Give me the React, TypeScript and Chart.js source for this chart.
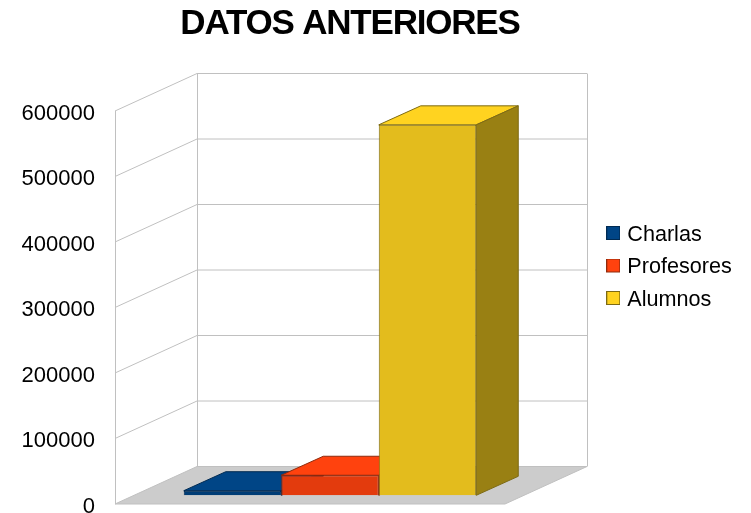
import React, { useEffect, useRef } from "react";
import { Chart, registerables } from "chart.js";

Chart.register(...registerables);

const categories = ["Datos"];
const seriesNames = ["Charlas", "Profesores", "Alumnos"];
const charlas = [7000];
const profesores = [30600];
const alumnos = [565600];
const yTicks = [0, 100000, 200000, 300000, 400000, 500000, 600000];

const FONT = '"Liberation Sans", Arial, sans-serif';
const topColors = ["#004586", "#ff420e", "#ffd320"];
const frontColors = ["#003d76", "#e33b0d", "#e3bc1d"];
const sideColors = ["#002a52", "#992809", "#998013"];
const edgeColors = ["#002a52", "#8f2a0c", "#7d6a14"];

const FLOOR_DX = 82, FLOOR_DY = -37.5;
const BAR_SHIFT_X = 20, BAR_SHIFT_Y = -8.7;
const BAR_DX = 42, BAR_DY = -19;
const WALL_LINE = "#c0c0c0";

function swatch(fill: string, stroke: string) {
  const c = document.createElement("canvas");
  c.width = 14; c.height = 18;
  const g = c.getContext("2d")!;
  g.fillStyle = fill; g.fillRect(0.5, 0.5, 13, 13);
  g.strokeStyle = stroke; g.lineWidth = 1; g.strokeRect(0.5, 0.5, 13, 13);
  return c;
}

function poly(ctx: CanvasRenderingContext2D, pts: number[][], fill: string | null, stroke: string | null) {
  ctx.beginPath();
  pts.forEach((p, i) => (i ? ctx.lineTo(p[0], p[1]) : ctx.moveTo(p[0], p[1])));
  ctx.closePath();
  if (fill) { ctx.fillStyle = fill; ctx.fill(); }
  if (stroke) { ctx.strokeStyle = stroke; ctx.lineWidth = 1; ctx.stroke(); }
}

const box3d = {
  id: "box3d",
  beforeLayout(chart: any) {
    const legend = chart.legend;
    if (legend && !legend.__fixed) {
      const f = legend.fit;
      legend.fit = function () { f.call(this); this.width = 246; };
      legend.__fixed = true;
      const t = chart.titleBlock;
      const d = t.draw;
      t.draw = function () {
        const c = this.ctx;
        c.letterSpacing = "-1.2px";
        d.call(this);
        c.letterSpacing = "0px";
      };
    }
  },
  afterLayout(chart: any) {
    const legend = chart.legend;
    const mid = (legend.top + legend.bottom) / 2;
    const d = 267.5 - mid;
    legend.top += d; legend.bottom += d;
    legend.left = 599.2; legend.right = 751;
    const t = chart.titleBlock;
    t.left = 0; t.right = 700;
  },
  beforeDatasetsDraw(chart: any) {
    const { ctx, chartArea: a, scales } = chart;
    const y = scales.y;
    const x0 = a.left, x1 = a.right;
    const y0 = y.getPixelForValue(0), yT = y.getPixelForValue(600000);
    ctx.save();
    poly(ctx, [[x0, y0], [x0 + FLOOR_DX, y0 + FLOOR_DY], [x1 + FLOOR_DX, y0 + FLOOR_DY], [x1, y0]], "#cccccc", WALL_LINE);
    ctx.strokeStyle = WALL_LINE;
    ctx.lineWidth = 1;
    ctx.beginPath();
    ctx.moveTo(x0 + 0.5, y0); ctx.lineTo(x0 + 0.5, yT);
    ctx.moveTo(x0 + FLOOR_DX + 0.5, y0 + FLOOR_DY); ctx.lineTo(x0 + FLOOR_DX + 0.5, yT + FLOOR_DY);
    ctx.moveTo(x1 + FLOOR_DX + 0.5, y0 + FLOOR_DY); ctx.lineTo(x1 + FLOOR_DX + 0.5, yT + FLOOR_DY);
    for (const v of yTicks) {
      if (v === 0) continue;
      const p = y.getPixelForValue(v);
      ctx.moveTo(x0, p);
      ctx.lineTo(x0 + FLOOR_DX, p + FLOOR_DY);
      ctx.lineTo(x1 + FLOOR_DX, p + FLOOR_DY);
    }
    ctx.stroke();
    ctx.restore();
  },
  beforeDatasetDraw() {
    return false;
  },
  afterDatasetsDraw(chart: any) {
    const { ctx } = chart;
    chart.data.datasets.forEach((_: any, i: number) => {
      const el = chart.getDatasetMeta(i).data[0];
      const { x, y, base, width } = el.getProps(["x", "y", "base", "width"], true);
      const l = x - width / 2, r = x + width / 2;
      ctx.save();
      ctx.translate(BAR_SHIFT_X, BAR_SHIFT_Y);
      poly(ctx, [[l, y], [l + BAR_DX, y + BAR_DY], [r + BAR_DX, y + BAR_DY], [r, y]], topColors[i], edgeColors[i]);
      poly(ctx, [[r, y], [r + BAR_DX, y + BAR_DY], [r + BAR_DX, base + BAR_DY], [r, base]], sideColors[i], edgeColors[i]);
      el.draw(ctx);
      ctx.restore();
    });
  },
};

export default function App() {
  const ref = useRef<HTMLCanvasElement>(null);
  useEffect(() => {
    const values = [charlas, profesores, alumnos];
    const chart = new Chart(ref.current!, {
      type: "bar",
      data: {
        labels: categories,
        datasets: seriesNames.map((name, i) => ({
          label: name,
          data: values[i],
          backgroundColor: frontColors[i],
          borderColor: edgeColors[i],
          borderWidth: 1,
          barPercentage: 1,
          categoryPercentage: 0.75,
        })),
      },
      options: {
        responsive: false,
        animation: false,
        layout: { autoPadding: false, padding: { bottom: 9 } },
        scales: {
          x: { display: false, grid: { display: false } },
          y: {
            min: 0,
            max: 600000,
            afterFit: (s: any) => { s.width = 115; s.paddingTop = 0; s.paddingBottom = 0; },
            afterBuildTicks: (s: any) => { s.ticks = yTicks.map((value) => ({ value })); },
            grid: { display: false, drawTicks: false },
            border: { display: false },
            ticks: {
              padding: 20,
              labelOffset: 2.5,
              color: "#000000",
              font: { family: FONT, size: 22 },
              callback: (v: any) => String(v),
            },
          },
        },
        plugins: {
          tooltip: { enabled: false },
          title: {
            display: true,
            text: "DATOS ANTERIORES",
            color: "#000000",
            font: { family: FONT, size: 35, weight: "bold" },
            padding: { top: 3, bottom: 66 },
          },
          legend: {
            position: "right",
            labels: {
              font: { family: FONT, size: 21.6 },
              color: "#000000",
              padding: 10.9,
              boxHeight: 14,
              usePointStyle: true,
              pointStyleWidth: 6.4,
              generateLabels: () =>
                seriesNames.map((name, i) => ({
                  text: name,
                  fillStyle: topColors[i],
                  strokeStyle: edgeColors[i],
                  lineWidth: 1,
                  pointStyle: swatch(topColors[i], edgeColors[i]),
                  datasetIndex: i,
                  hidden: false,
                })),
            },
          },
        },
      },
      plugins: [box3d],
    } as any);
    return () => chart.destroy();
  }, []);
  return (
    <div style={{ position: "fixed", left: 0, top: 0, width: 751, height: 513, background: "#ffffff" }}>
      <canvas ref={ref} width={751} height={513} style={{ display: "block" }} />
    </div>
  );
}
